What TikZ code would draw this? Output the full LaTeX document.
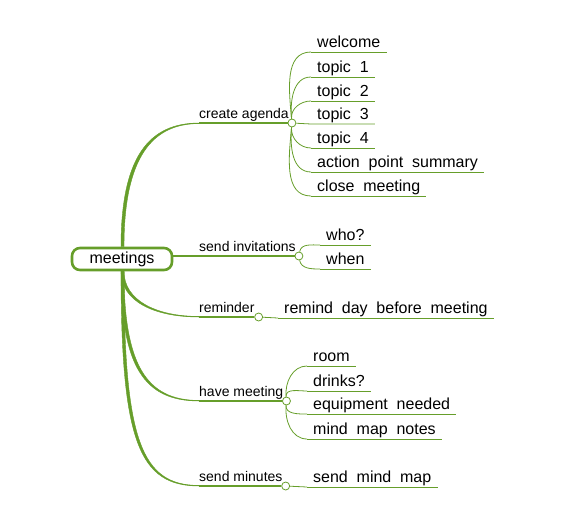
\documentclass[tikz,border=0pt]{standalone}
\usepackage{fontspec}
\setmainfont{Liberation Sans}
\usetikzlibrary{positioning,calc}
\definecolor{LeafGreen}{RGB}{102,158,42}

\tikzset{
  hubbox/.style={draw=LeafGreen, line width=2.6pt, rounded corners=8pt, minimum width=100pt, minimum height=22pt, fill=white, font=\fontsize{16}{18}\selectfont},
  branch/.style={anchor=south west, inner xsep=0pt, inner ysep=4pt, text depth=0pt, font=\fontsize{14}{16}\selectfont},
  leaf/.style={anchor=south west, inner xsep=6pt, inner ysep=4.5pt, text depth=0pt, font={\fontsize{16}{18}\selectfont\spaceskip=0.55em\relax}},
  knob/.style={circle, draw=LeafGreen, fill=white, line width=0.8pt, inner sep=0pt, minimum size=8pt},
  limb/.style={fill=LeafGreen, draw=LeafGreen, line width=0.4pt, line join=round},
  twig/.style={draw=LeafGreen, line width=0.8pt},
}

\begin{document}
\begin{tikzpicture}[x=1pt,y=-1pt]
  \useasboundingbox (0,0) rectangle (585,520);

  % centre and main branches
  \node[hubbox] (hub) at (122,259) {meetings};
  \node[branch] (agenda) at (199,123) {create agenda};
  \node[branch] (invite) at (199,256) {send invitations};
  \node[branch] (remind) at (199,317) {reminder};
  \node[branch] (meet) at (199,401) {have meeting};
  \node[branch] (minutes) at (199,486) {send minutes};

  \node[knob] (agendaknob) at ([xshift=3pt]agenda.south east) {};
  \node[knob] (inviteknob) at ([xshift=3pt]invite.south east) {};
  \node[knob] (remindknob) at ([xshift=4pt]remind.south east) {};
  \node[knob] (meetknob) at ([xshift=3pt]meet.south east) {};
  \node[knob] (minutesknob) at ([xshift=3pt]minutes.south east) {};

  \fill[limb] ([xshift=-1pt]hub.north) .. controls +(0,-90) and +(-50,0) .. (agenda.south west)
    -- ([yshift=-0.6pt]agenda.south west) .. controls +(-47,0) and +(0,-89) .. ([xshift=2pt]hub.north) -- cycle;
  \fill[limb] ([xshift=-1pt]hub.south) .. controls +(0,30) and +(-45,0) .. (remind.south west)
    -- ([yshift=0.6pt]remind.south west) .. controls +(-43,0) and +(0,29) .. ([xshift=2pt]hub.south) -- cycle;
  \fill[limb] ([xshift=-1pt]hub.south) .. controls +(0,95) and +(-55,0) .. (meet.south west)
    -- ([yshift=0.6pt]meet.south west) .. controls +(-53,0) and +(0,93) .. ([xshift=2pt]hub.south) -- cycle;
  \fill[limb] ([xshift=-1pt]hub.south) .. controls +(0,170) and +(-60,0) .. (minutes.south west)
    -- ([yshift=0.6pt]minutes.south west) .. controls +(-58,0) and +(0,168) .. ([xshift=2pt]hub.south) -- cycle;

  \draw[twig, line width=1.1pt] (agenda.south west) -- (agendaknob);
  \draw[twig, line width=1.4pt] ([yshift=3pt]hub.east) -- (inviteknob);
  \draw[twig, line width=1.1pt] (remind.south west) -- (remindknob);
  \draw[twig, line width=1.1pt] (meet.south west) -- (meetknob);
  \draw[twig, line width=1.1pt] (minutes.south west) -- (minutesknob);

  % create agenda
  \node[leaf] (welcome) at (311,52) {welcome};
  \node[leaf] (topicA) at (311,77) {topic 1};
  \node[leaf] (topicB) at (311,101) {topic 2};
  \node[leaf] (topicC) at (311,124) {topic 3};
  \node[leaf] (topicD) at (311,148) {topic 4};
  \node[leaf] (actions) at (311,172) {action point summary};
  \node[leaf] (closing) at (311,196) {close meeting};
  \foreach \n in {welcome,topicA,topicB,topicD,actions,closing}
    \draw[twig] (\n.south west) -- (\n.south east);
  \draw[twig] (agendaknob) to[out=95,in=180] (welcome.south west);
  \draw[twig] (agendaknob) to[out=95,in=180] (topicA.south west);
  \draw[twig] (agendaknob) to[out=95,in=180] (topicB.south west);
  \draw[twig] (agendaknob) -- (topicC.south west) -- (topicC.south east);
  \draw[twig] (agendaknob) to[out=-95,in=180] (topicD.south west);
  \draw[twig] (agendaknob) to[out=-95,in=180] (actions.south west);
  \draw[twig] (agendaknob) to[out=-95,in=180] (closing.south west);

  % send invitations
  \node[leaf] (who) at (320,245) {who?};
  \node[leaf] (when) at (320,269) {when};
  \draw[twig] (who.south west) -- (who.south east);
  \draw[twig] (when.south west) -- (when.south east);
  \draw[twig] (inviteknob) to[out=80,in=180] (who.south west);
  \draw[twig] (inviteknob) to[out=-80,in=180] (when.south west);

  % reminder
  \node[leaf] (daybefore) at (278,318) {remind day before meeting};
  \draw[twig] (daybefore.south west) -- (daybefore.south east);
  \draw[twig] (remindknob) -- (daybefore.south west);

  % have meeting
  \node[leaf] (room) at (307,366) {room};
  \node[leaf] (drinks) at (307,391) {drinks?};
  \node[leaf] (kit) at (307,414) {equipment needed};
  \node[leaf] (notes) at (307,439) {mind map notes};
  \foreach \n in {room,drinks,kit,notes}
    \draw[twig] (\n.south west) -- (\n.south east);
  \draw[twig] (meetknob) to[out=95,in=180] (room.south west);
  \draw[twig] (meetknob) to[out=95,in=180] (drinks.south west);
  \draw[twig] (meetknob) to[out=-95,in=180] (kit.south west);
  \draw[twig] (meetknob) to[out=-95,in=180] (notes.south west);

  % send minutes
  \node[leaf] (sendmap) at (307,487) {send mind map};
  \draw[twig] (sendmap.south west) -- (sendmap.south east);
  \draw[twig] (minutesknob) -- (sendmap.south west);
\end{tikzpicture}
\end{document}
